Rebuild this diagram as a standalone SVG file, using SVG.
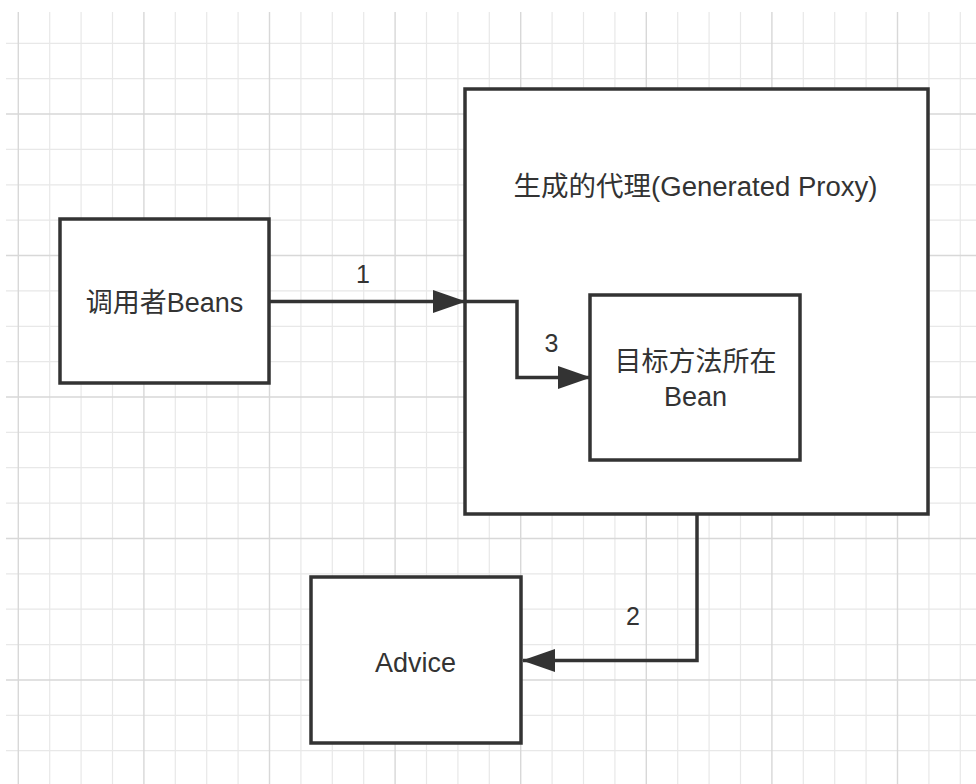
<svg xmlns="http://www.w3.org/2000/svg" width="976" height="784" viewBox="0 0 976 784">
<style>
.minor{stroke:#e8e8e8;stroke-width:1.2;fill:none}
.major{stroke:#d8d8d8;stroke-width:1.4;fill:none}
.box{fill:#ffffff;stroke:#333333;stroke-width:3.5}
.lbl{font-family:"Liberation Sans","Noto Sans CJK SC",sans-serif;font-size:27px;fill:#333333;text-anchor:middle}
.num{font-family:"Liberation Sans","Noto Sans CJK SC",sans-serif;font-size:25px;fill:#333333;text-anchor:middle}
.edge{fill:none;stroke:#333333;stroke-width:3.5;stroke-linejoin:miter}
</style>
<defs>
<marker id="arr" markerUnits="userSpaceOnUse" markerWidth="33" markerHeight="23" refX="32" refY="11.5" orient="auto">
<path d="M0,0 L33,11.5 L0,23 z" fill="#333333"/>
</marker>
</defs>
<rect x="0" y="0" width="976" height="784" fill="#ffffff"/>
<g id="grid">
<path class="minor" d="M49.7 12V784M81.1 12V784M112.5 12V784M175.3 12V784M206.7 12V784M238.1 12V784M300.9 12V784M332.3 12V784M363.7 12V784M426.5 12V784M457.9 12V784M489.3 12V784M552.1 12V784M583.5 12V784M614.9 12V784M677.7 12V784M709.1 12V784M740.5 12V784M803.3 12V784M834.7 12V784M866.1 12V784M928.9 12V784M960.3 12V784"/>
<path class="minor" d="M6 43.3H976M6 78.7H976M6 149.4H976M6 184.8H976M6 220.2H976M6 290.9H976M6 326.3H976M6 361.6H976M6 432.4H976M6 467.7H976M6 503.1H976M6 573.9H976M6 609.2H976M6 644.6H976M6 715.3H976M6 750.7H976"/>
<path class="major" d="M18.3 12V784M143.9 12V784M269.5 12V784M395.1 12V784M520.7 12V784M646.3 12V784M771.9 12V784M897.5 12V784"/>
<path class="major" d="M6 114H976M6 255.5H976M6 397H976M6 538.5H976M6 680H976"/>
</g>
<g id="node-caller">
<rect class="box" x="60" y="219" width="209" height="164"/>
<text class="lbl" x="164.5" y="312">调用者Beans</text>
</g>
<g id="node-proxy">
<rect class="box" x="465" y="89" width="463" height="425"/>
<text class="lbl" x="695.5" y="196" textLength="364" lengthAdjust="spacingAndGlyphs">生成的代理(Generated Proxy)</text>
</g>
<g id="node-target">
<rect class="box" x="590" y="295" width="210" height="165"/>
<text class="lbl" x="695.5" y="371">目标方法所在</text>
<text class="lbl" x="695.5" y="406">Bean</text>
</g>
<g id="node-advice">
<rect class="box" x="311" y="577" width="210" height="166"/>
<text class="lbl" x="415.5" y="672">Advice</text>
</g>
<g id="connectors">
<path class="edge" d="M269 301.5H465" marker-end="url(#arr)"/>
<text class="num" x="363" y="283">1</text>
<path class="edge" d="M465 301.5H517V377.5H590" marker-end="url(#arr)"/>
<text class="num" x="551.5" y="352">3</text>
<path class="edge" d="M697 514V660.5H523" marker-end="url(#arr)"/>
<text class="num" x="633" y="625">2</text>
</g>
</svg>
